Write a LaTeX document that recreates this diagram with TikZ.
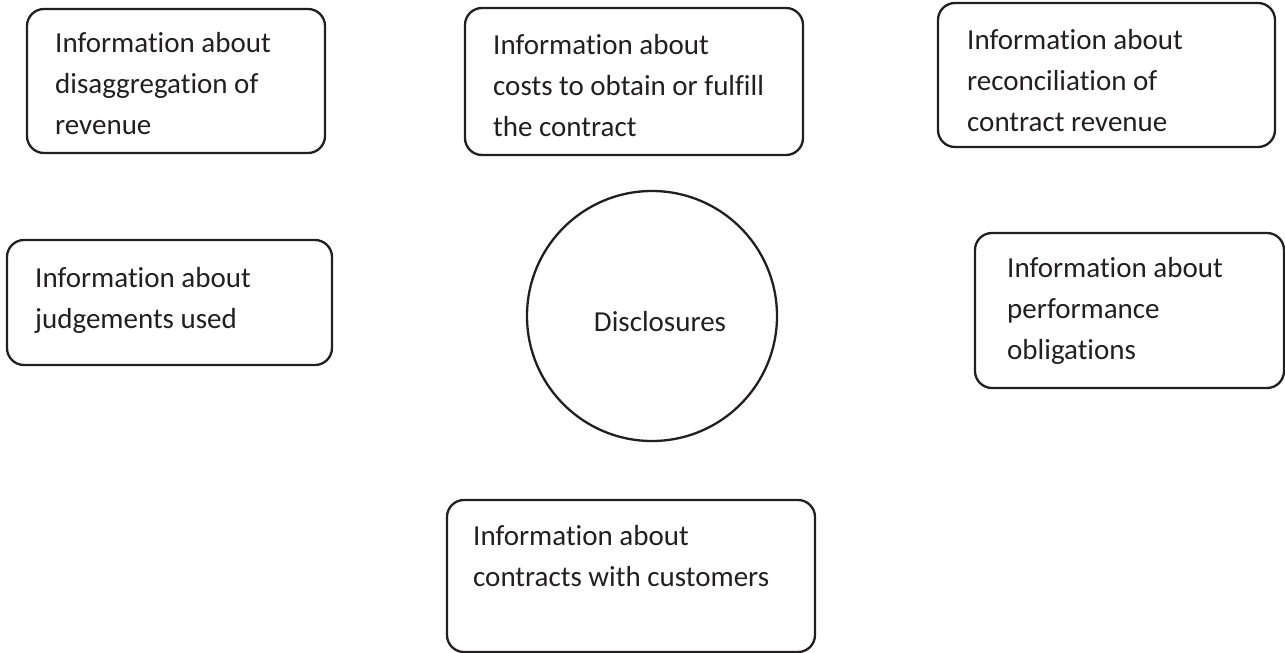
\documentclass[tikz,border=0pt]{standalone}
\usepackage{fontspec}
\setmainfont{Carlito}[Ligatures={NoCommon,NoDiscretionary}]
\definecolor{ink}{HTML}{231F20}
\begin{document}
\begin{tikzpicture}[x=1pt,y=-1pt,
  infobox/.style={draw=ink, line width=2.3pt, rounded corners=17pt,
    rectangle, inner sep=0pt},
  hub/.style={draw=ink, line width=2.3pt, circle, inner sep=0pt,
    minimum size=250pt},
  boxtext/.style={anchor=north west, inner sep=0pt, align=left, text=ink,
    font=\fontsize{29}{41}\selectfont},
  hubtext/.style={anchor=base, inner sep=0pt, text=ink,
    font=\fontsize{29}{41}\selectfont}]
\useasboundingbox (0,0) rectangle (1285,653);

% outer boxes
\node[infobox, minimum width=298pt, minimum height=144pt] (b1) at (176,81) {};
\node[infobox, minimum width=338pt, minimum height=147pt] (b2) at (634,81.5) {};
\node[infobox, minimum width=337pt, minimum height=144pt] (b3) at (1106.5,75) {};
\node[infobox, minimum width=325pt, minimum height=125pt] (b4) at (169.5,302.5) {};
\node[infobox, minimum width=309pt, minimum height=155pt] (b5) at (1129.5,310.5) {};
\node[infobox, minimum width=368pt, minimum height=152pt] (b6) at (631,576) {};

% central circle
\node[hub] (hub) at (652,316) {};
\node[hubtext] (hubt) at (660,331) {Disclosures};

% box texts (first baseline minus 0.7 x baselineskip)
\node[boxtext] (t1) at (55,23.3) {\strut Information about\\disaggregation of\\revenue};
\node[boxtext] (t2) at (493,25.3) {\strut Information about\\costs to obtain or fulfill\\the contract};
\node[boxtext] (t3) at (967,20.3) {\strut Information about\\reconciliation of\\contract revenue};
\node[boxtext] (t4) at (35,258.3) {\strut Information about\\judgements used};
\node[boxtext] (t5) at (1007,248.3) {\strut Information about\\performance\\obligations};
\node[boxtext] (t6) at (473,516.3) {\strut Information about\\contracts with customers};
\end{tikzpicture}
\end{document}
